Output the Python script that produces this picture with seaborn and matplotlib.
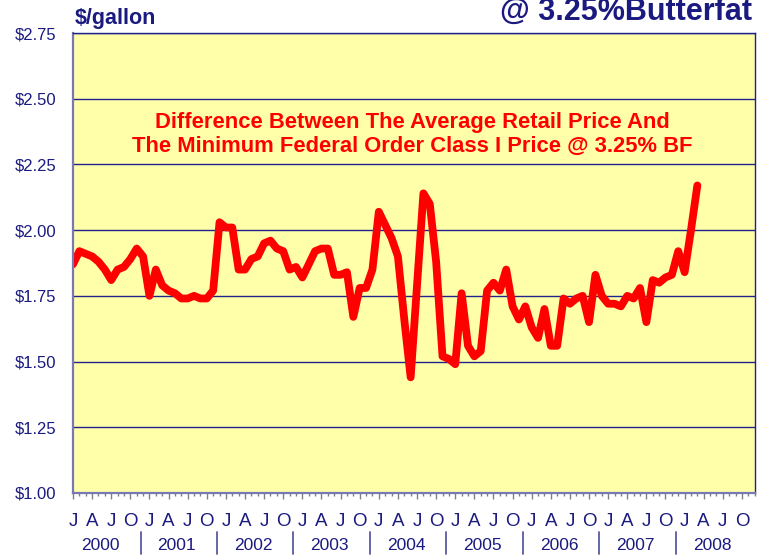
# Retail vs Class I milk price difference, 2000 - 2008
import numpy as np
import pandas as pd
import matplotlib
matplotlib.use('Agg')
import matplotlib.pyplot as plt
import matplotlib.transforms as mtransforms
import seaborn as sns

# monthly values ($/gallon), Jan 2000 .. Mar 2008
y2000 = [1.87, 1.92, 1.91, 1.90, 1.88, 1.85, 1.81, 1.85, 1.86, 1.89, 1.93, 1.90]
y2001 = [1.75, 1.85, 1.79, 1.77, 1.76, 1.74, 1.74, 1.75, 1.74, 1.74, 1.77, 2.03]
y2002 = [2.01, 2.01, 1.85, 1.85, 1.89, 1.90, 1.95, 1.96, 1.93, 1.92, 1.85, 1.86]
y2003 = [1.82, 1.87, 1.92, 1.93, 1.93, 1.83, 1.83, 1.84, 1.67, 1.78, 1.78, 1.85]
y2004 = [2.07, 2.02, 1.97, 1.90, 1.66, 1.44, 1.79, 2.14, 2.10, 1.88, 1.52, 1.51]
y2005 = [1.49, 1.76, 1.56, 1.52, 1.54, 1.77, 1.80, 1.77, 1.85, 1.71, 1.66, 1.71]
y2006 = [1.63, 1.59, 1.70, 1.56, 1.56, 1.74, 1.72, 1.74, 1.75, 1.65, 1.83, 1.75]
y2007 = [1.72, 1.72, 1.71, 1.75, 1.74, 1.78, 1.65, 1.81, 1.80, 1.82, 1.83, 1.92]
y2008 = [1.84, 2.00, 2.17]

years = ['2000', '2001', '2002', '2003', '2004', '2005', '2006', '2007', '2008']
month_letters = ['J', 'A', 'J', 'O']
ytick_vals = [1.00, 1.25, 1.50, 1.75, 2.00, 2.25, 2.50, 2.75]

price = y2000 + y2001 + y2002 + y2003 + y2004 + y2005 + y2006 + y2007 + y2008
df = pd.DataFrame({'month': np.arange(len(price)), 'price': price})

sns.set_style('white')
plt.rcParams['font.family'] = ['Liberation Sans', 'DejaVu Sans']

navy = '#1a1a80'
fig = plt.figure(figsize=(7.65, 5.56), dpi=100)
ax = fig.add_axes([73 / 765, 1 - 493 / 556, 682 / 765, 460 / 556])
ax.set_facecolor('#FFFFAA')

sns.lineplot(data=df, x='month', y='price', color='#FF0000', linewidth=5.6, ax=ax)
ax.lines[0].set_solid_joinstyle('round')
ax.lines[0].set_solid_capstyle('round')

n_months = len(years) * 12
ax.set_xlim(0, n_months - 0.95)
ax.set_ylim(1.0, 2.75)

ax.set_xticks(np.arange(0, n_months, 3))
ax.set_xticklabels(month_letters * len(years))
ax.set_xticks(np.arange(0, n_months), minor=True)
ax.tick_params(axis='x', which='major', bottom=True, length=4.5, width=1, color='#808080',
               pad=10, labelsize=13.5, labelcolor=navy)
ax.tick_params(axis='x', which='minor', bottom=True, length=2.5, width=1, color='#808080')

ax.set_yticks(ytick_vals)
ax.set_yticklabels([r'\$%.2f' % v for v in ytick_vals])
ax.tick_params(axis='y', length=0, pad=12, labelsize=12, labelcolor=navy)
ax.grid(axis='y', color='#22228C', linewidth=1.0)
ax.set_xlabel('')
ax.set_ylabel('')

for side in ['top', 'right']:
    ax.spines[side].set_color('#20208A')
    ax.spines[side].set_linewidth(1.0)
for side in ['left', 'bottom']:
    ax.spines[side].set_color('#7878B4')
    ax.spines[side].set_linewidth(1.6)

# year row under the month letters
trans = mtransforms.blended_transform_factory(ax.transData, fig.transFigure)
for k, yr in enumerate(years):
    ax.text(4.3 + 12 * k, 1 - 546 / 556, yr, transform=trans, ha='center', va='center',
            fontsize=12.5, color=navy)
for k in range(len(years) - 1):
    ax.plot([10.6 + 12 * k] * 2, [1 - 532 / 556, 1 - 554 / 556], transform=trans,
            color='#5a5aa0', lw=1.3, clip_on=False)

ax.text(0.497, 0.78, 'Difference Between The Average Retail Price And\n'
        'The Minimum Federal Order Class I Price @ 3.25% BF',
        transform=ax.transAxes, ha='center', va='center', multialignment='center',
        color='#FF0000', fontsize=15.8, fontweight='bold', linespacing=1.2)

fig.text(75 / 765, 1 - 24 / 556, r'\$/gallon', ha='left', va='baseline',
         fontsize=15.5, fontweight='bold', color=navy)
fig.text(752 / 765, 1 - 20 / 556, '@ 3.25%Butterfat', ha='right', va='baseline',
         fontsize=22, fontweight='bold', color=navy)

fig.savefig('out.png', dpi=100)
